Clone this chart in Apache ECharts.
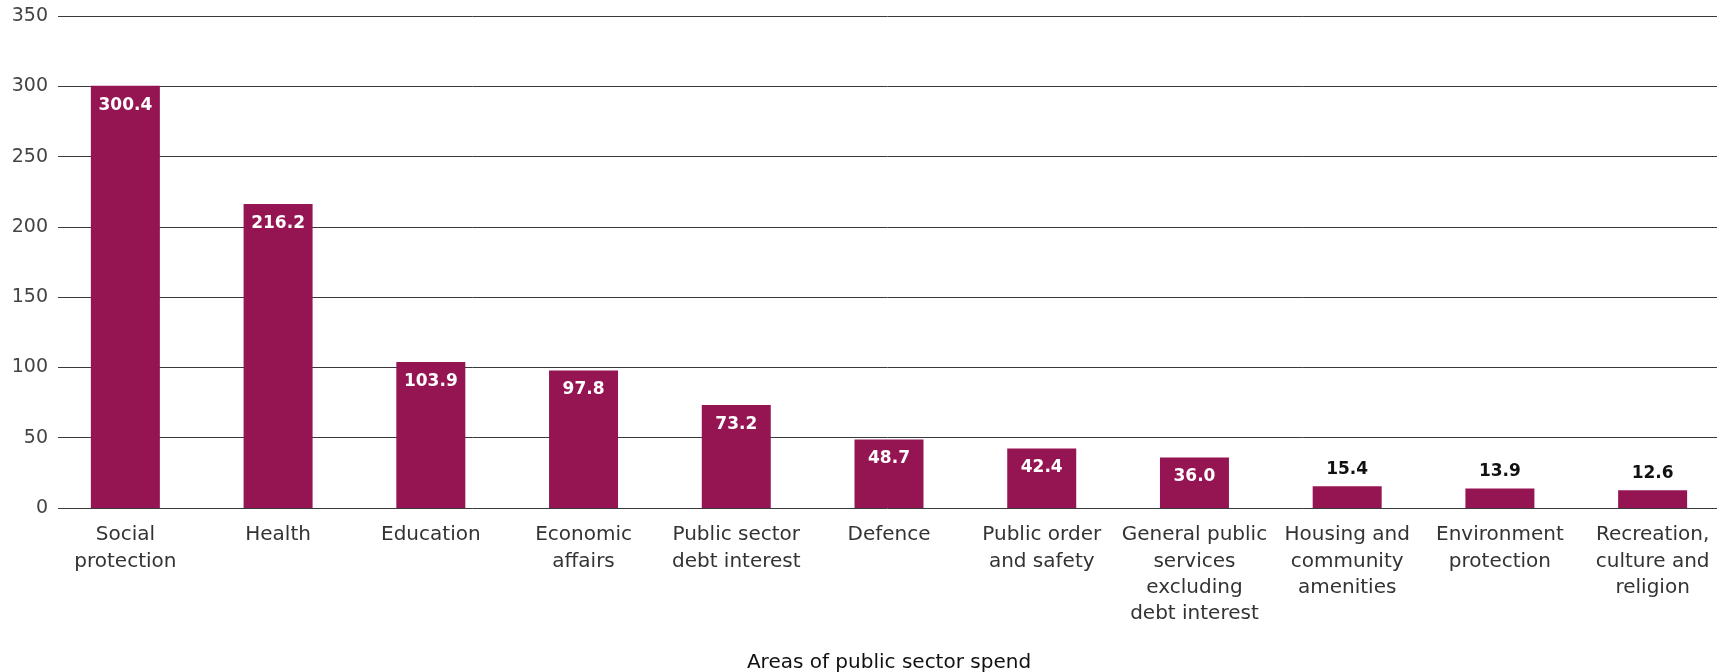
<!DOCTYPE html>
<html>
<head>
<meta charset="utf-8">
<script src="https://cdn.jsdelivr.net/npm/echarts@6/dist/echarts.min.js"></script>
<style>html,body{margin:0;padding:0;background:#fff}#c{width:1717px;height:672px}</style>
</head>
<body>
<div id="c"></div>
<script>
const categories = [
  "Social\nprotection", "Health", "Education", "Economic\naffairs",
  "Public sector\ndebt interest", "Defence", "Public order\nand safety",
  "General public\nservices\nexcluding\ndebt interest",
  "Housing and\ncommunity\namenities", "Environment\nprotection",
  "Recreation,\nculture and\nreligion"
];
const values = [300.4, 216.2, 103.9, 97.8, 73.2, 48.7, 42.4, 36.0, 15.4, 13.9, 12.6];
const yTicks = [0, 50, 100, 150, 200, 250, 300, 350];
const xAxisTitle = "Areas of public sector spend";

const FONT = "DejaVu Sans";
const BAR = "#951553";

const data = values.map(v => {
  const inside = v > 20;
  return {
    value: v,
    label: {
      show: true,
      position: inside ? "insideTop" : "top",
      distance: inside ? 11 : 8,
      color: inside ? "#ffffff" : "#111111",
      fontFamily: FONT,
      fontWeight: "bold",
      fontSize: 17,
      formatter: p => p.value.toFixed(1)
    }
  };
});

const chart = echarts.init(document.getElementById("c"), null, {renderer: "canvas"});
chart.setOption({
  animation: false,
  backgroundColor: "#ffffff",
  grid: [
    {left: 58, right: 0, top: 16, bottom: 164, outerBoundsMode: "none", containLabel: false},
    {left: 49, right: -12, top: 16, bottom: 164, outerBoundsMode: "none", containLabel: false}
  ],
  xAxis: [
    {gridIndex: 0, type: "value", min: 0, max: 1, show: false},
    {
      gridIndex: 1, type: "category", data: categories,
      axisLine: {show: false}, axisTick: {show: false},
      axisLabel: {interval: 0, color: "#333333", fontFamily: FONT, fontSize: 20, lineHeight: 26.3, margin: 14},
      name: xAxisTitle, nameLocation: "middle", nameGap: 145,
      nameTextStyle: {color: "#111111", fontFamily: FONT, fontSize: 20}
    }
  ],
  yAxis: [
    {
      gridIndex: 0, type: "value", min: yTicks[0], max: yTicks[yTicks.length - 1], interval: 50,
      axisLine: {show: false}, axisTick: {show: false},
      axisLabel: {color: "#444444", fontFamily: FONT, fontSize: 19, margin: 10},
      splitLine: {lineStyle: {color: "#3a3a3a", width: 1}}
    },
    {gridIndex: 1, type: "value", min: 0, max: 350, show: false, splitLine: {show: false}}
  ],
  series: [{
    type: "bar", xAxisIndex: 1, yAxisIndex: 1,
    data: data, barWidth: 69,
    itemStyle: {color: BAR}
  }]
});
</script>
</body>
</html>
